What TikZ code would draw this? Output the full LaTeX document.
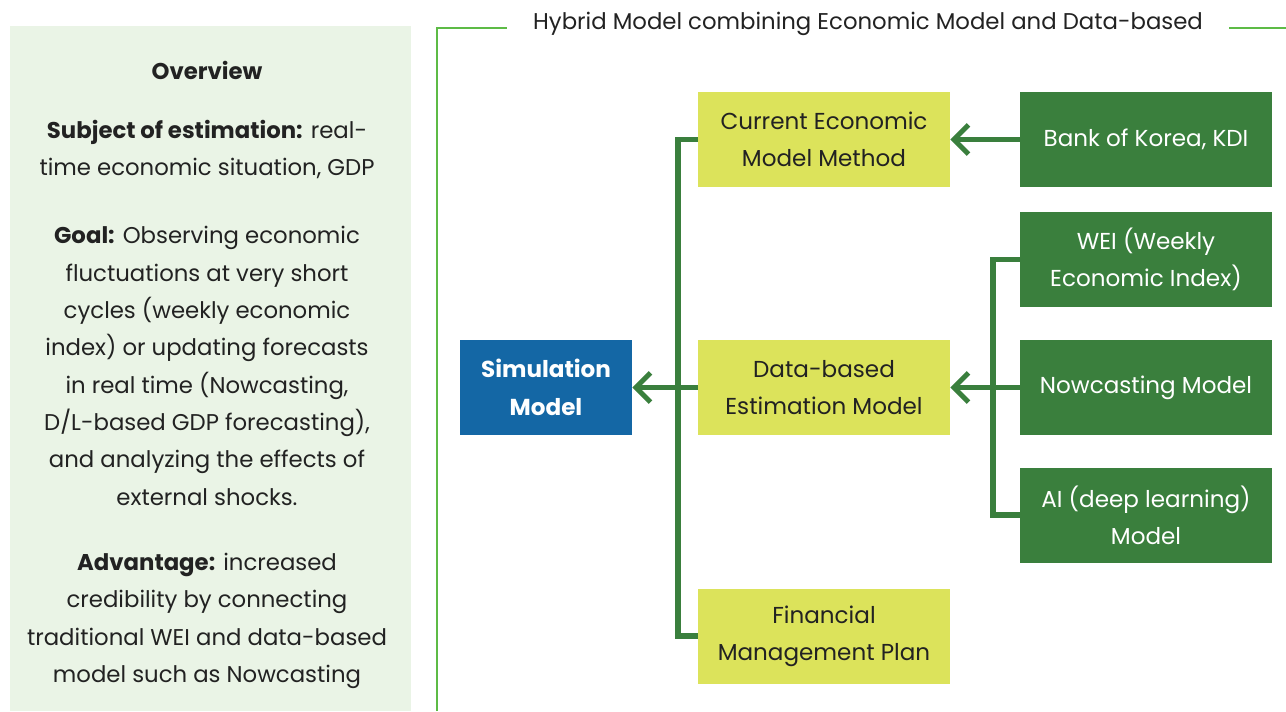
\documentclass[tikz,border=0pt]{standalone}
\usepackage{fontspec}
\setmainfont{Poppins}
\usetikzlibrary{arrows.meta}
\definecolor{panelbg}{HTML}{EAF4E6}
\definecolor{framegreen}{HTML}{5DBB46}
\definecolor{darkgreen}{HTML}{3A7F3D}
\definecolor{lime}{HTML}{DCE35B}
\definecolor{simblue}{HTML}{1467A5}
\definecolor{txt}{HTML}{222222}
\tikzset{
  ybox/.style={fill=lime, text=txt, minimum width=252*0.75pt, minimum height=95*0.75pt, align=center, inner sep=0pt, font=\fontsize{17.3}{28}\selectfont},
  gbox/.style={fill=darkgreen, text=white, minimum width=252*0.75pt, minimum height=95*0.75pt, align=center, inner sep=0pt, font=\fontsize{17.3}{28}\selectfont},
  bbox/.style={fill=simblue, text=white, minimum width=172*0.75pt, minimum height=95*0.75pt, align=center, inner sep=0pt, font=\bfseries\fontsize{17.3}{28}\selectfont},
  conn/.style={draw=darkgreen, line width=3.8pt},
  arr/.style={conn, -{Straight Barb[length=11pt, width=22pt]}},
  ptext/.style={text=txt, align=center, inner sep=0pt, font=\fontsize{17.1}{28}\selectfont},
}
\begin{document}
\begin{tikzpicture}[x=0.75pt, y=-0.75pt]
\useasboundingbox (0,0) rectangle (1286,711);
\fill[white] (0,0) rectangle (1286,711);
% left panel
\fill[panelbg] (10,26) rectangle (411,711);
\node[ptext, font=\bfseries\fontsize{17.1}{28}\selectfont] (ov) at (207,70) {Overview};
\node[ptext] (subj) at (207,149.5) {\textbf{Subject of estimation:} real-\\time economic situation, GDP};
\node[ptext] (goal) at (207,366) {\textbf{Goal:} Observing economic\\fluctuations at very short\\cycles (weekly economic\\index) or updating forecasts\\in real time (Nowcasting,\\D/L-based GDP forecasting),\\and analyzing the effects of\\external shocks.};
\node[ptext] (adv) at (207,621) {\textbf{Advantage:} increased\\credibility by connecting\\traditional WEI and data-based\\model such as Nowcasting};
% frame
\draw[framegreen, line width=2.2pt] (437,711) -- (437,28) -- (507,28);
\draw[framegreen, line width=2.2pt] (1229,28) -- (1286,28);
\node[text=txt, inner sep=0pt, font=\fontsize{17.1}{20}\selectfont] (title) at (868,24) {Hybrid Model combining Economic Model and Data-based};
% boxes
\node[ybox] (cur) at (824,139.5) {Current Economic\\Model Method};
\node[ybox] (dat) at (824,387.5) {Data-based\\Estimation Model};
\node[ybox] (fin) at (824,636) {Financial\\Management Plan};
\node[gbox] (bok) at (1146,139.5) {Bank of Korea, KDI};
\node[gbox] (wei) at (1146,259.5) {WEI (Weekly\\Economic Index)};
\node[gbox] (now) at (1146,387.5) {Nowcasting Model};
\node[gbox] (ai) at (1146,515) {AI (deep learning)\\Model};
\node[bbox] (sim) at (546,387.5) {Simulation\\Model};
% connectors
\coordinate (lt) at (678,139.5);
\coordinate (lb) at (678,636);
\draw[conn] (cur.west) -- (lt) -- (lb) -- (fin.west);
\draw[arr] (dat.west) -- (sim.east);
\coordinate (rt) at (993,259.5);
\coordinate (rb) at (993,515);
\draw[conn] (wei.west) -- (rt) -- (rb) -- (ai.west);
\draw[arr] (now.west) -- (dat.east);
\draw[arr] (bok.west) -- (cur.east);
\end{tikzpicture}
\end{document}
